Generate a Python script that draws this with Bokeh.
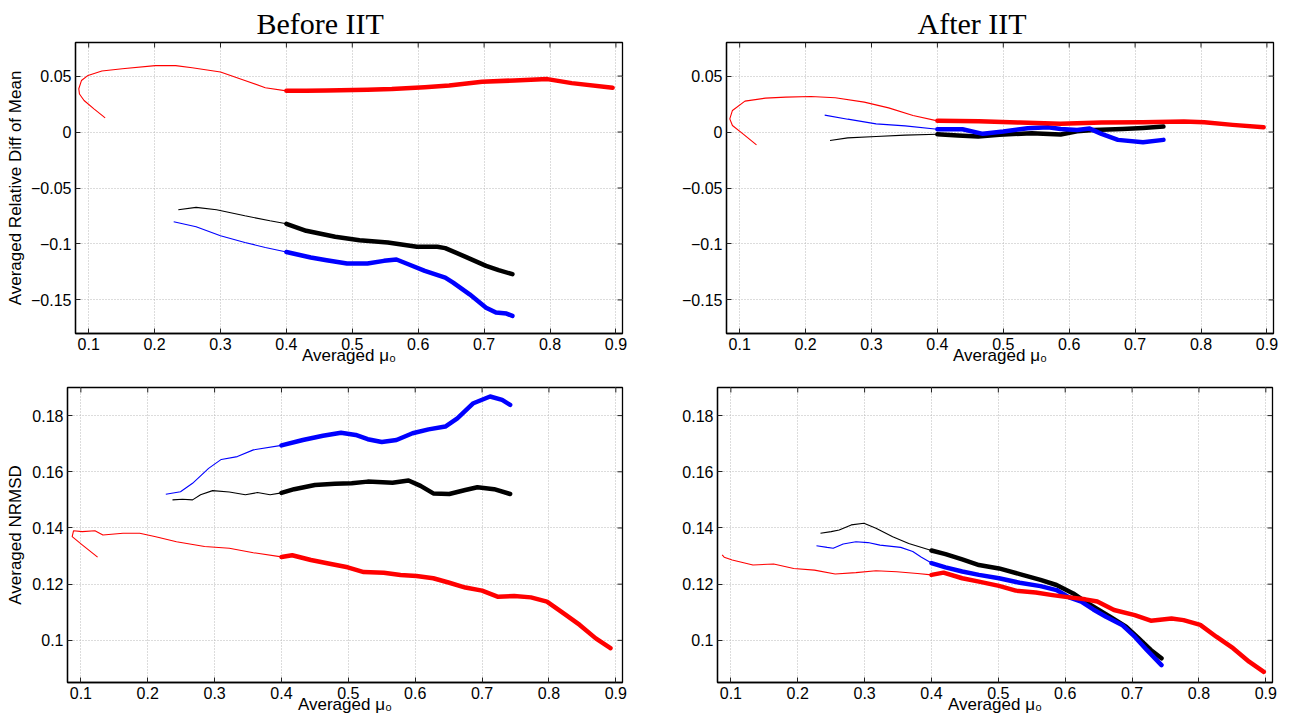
from bokeh.plotting import figure
from bokeh.layouts import column, row
from bokeh.models import FixedTicker
from bokeh.embed import file_html
from bokeh.resources import INLINE

# ---------------- axis ticks ----------------
x_ticks = [0.1, 0.2, 0.3, 0.4, 0.5, 0.6, 0.7, 0.8, 0.9]
x_tick_labels = ["0.1", "0.2", "0.3", "0.4", "0.5", "0.6", "0.7", "0.8", "0.9"]
mean_ticks = [-0.15, -0.1, -0.05, 0.0, 0.05]
mean_tick_labels = ["\u22120.15", "\u22120.1", "\u22120.05", "0", "0.05"]
nrmsd_ticks = [0.1, 0.12, 0.14, 0.16, 0.18]
nrmsd_tick_labels = ["0.1", "0.12", "0.14", "0.16", "0.18"]

titles = ["Before IIT", "After IIT"]
x_label = "Averaged \u03bc\u2080"
y_label_mean = "Averaged Relative Diff of Mean"
y_label_nrmsd = "Averaged NRMSD"
split_mu = 0.4  # thin line below, thick line above

# ---------------- Before IIT : relative diff of mean ----------------
b_mean_red_x = [0.125, 0.108, 0.093, 0.086, 0.085, 0.089, 0.099, 0.120, 0.151, 0.201, 0.232, 0.257,
                0.300, 0.337, 0.368, 0.400, 0.430, 0.461, 0.523, 0.560, 0.610, 0.647, 0.697, 0.746,
                0.796, 0.833, 0.895]
b_mean_red_y = [0.0127, 0.0207, 0.0282, 0.0340, 0.0387, 0.0460, 0.0506, 0.0545, 0.0566, 0.0593, 0.0593,
                0.0575, 0.0536, 0.0461, 0.0396, 0.0368, 0.0368, 0.0372, 0.0378, 0.0384, 0.0400, 0.0416,
                0.0449, 0.0461, 0.0473, 0.0437, 0.0396]
b_mean_black_x = [0.236, 0.263, 0.294, 0.337, 0.375, 0.400, 0.430, 0.474, 0.511, 0.554, 0.598, 0.629,
                  0.641, 0.672, 0.703, 0.722, 0.743]
b_mean_black_y = [-0.0694, -0.0673, -0.0694, -0.0748, -0.0793, -0.0820, -0.0882, -0.0936, -0.0966,
                  -0.0987, -0.1025, -0.1025, -0.1037, -0.1115, -0.1196, -0.1234, -0.1270]
b_mean_blue_x = [0.229, 0.263, 0.300, 0.337, 0.368, 0.400, 0.437, 0.461, 0.492, 0.523, 0.548, 0.567,
                 0.585, 0.610, 0.641, 0.653, 0.678, 0.703, 0.718, 0.734, 0.743]
b_mean_blue_y = [-0.0801, -0.0846, -0.0927, -0.0987, -0.1031, -0.1072, -0.1121, -0.1145, -0.1175,
                 -0.1175, -0.1151, -0.1139, -0.1181, -0.1240, -0.1300, -0.1345, -0.1450, -0.1569,
                 -0.1613, -0.1622, -0.1643]

# ---------------- After IIT : relative diff of mean ----------------
a_mean_red_x = [0.1255, 0.105, 0.089, 0.085, 0.089, 0.108, 0.139, 0.170, 0.208, 0.245, 0.289, 0.326,
                0.363, 0.400, 0.463, 0.525, 0.587, 0.649, 0.712, 0.774, 0.805, 0.848, 0.895]
a_mean_red_y = [-0.0115, -0.0016, 0.0058, 0.0118, 0.0193, 0.0276, 0.0303, 0.0312, 0.0318, 0.0306,
                0.0267, 0.0216, 0.0148, 0.0100, 0.0097, 0.0085, 0.0073, 0.0085, 0.0088, 0.0094,
                0.0088, 0.0064, 0.0043]
a_mean_black_x = [0.237, 0.264, 0.307, 0.351, 0.400, 0.431, 0.462, 0.494, 0.543, 0.587, 0.612, 0.637,
                  0.681, 0.712, 0.743]
a_mean_black_y = [-0.0076, -0.0052, -0.0040, -0.0028, -0.0020, -0.0031, -0.0040, -0.0025, -0.0010,
                  -0.0022, 0.0007, 0.0019, 0.0028, 0.0037, 0.0049]
a_mean_blue_x = [0.229, 0.264, 0.307, 0.351, 0.400, 0.438, 0.469, 0.500, 0.537, 0.568, 0.587, 0.612,
                 0.631, 0.649, 0.674, 0.712, 0.743]
a_mean_blue_y = [0.0151, 0.0115, 0.0073, 0.0055, 0.0025, 0.0025, -0.0016, 0.0004, 0.0034, 0.0043,
                 0.0028, 0.0019, 0.0031, -0.0016, -0.0070, -0.0091, -0.0070]

# ---------------- Before IIT : NRMSD ----------------
b_nrmsd_red_x = [0.125, 0.102, 0.087, 0.089, 0.102, 0.121, 0.133, 0.163, 0.188, 0.212, 0.243, 0.285,
                 0.322, 0.358, 0.400, 0.416, 0.444, 0.474, 0.499, 0.523, 0.553, 0.578, 0.602, 0.627,
                 0.651, 0.675, 0.700, 0.724, 0.748, 0.773, 0.797, 0.822, 0.846, 0.870, 0.892]
b_nrmsd_red_y = [0.1296, 0.1340, 0.1369, 0.1390, 0.1387, 0.1390, 0.1375, 0.1381, 0.1381, 0.1369,
                 0.1351, 0.1334, 0.1328, 0.1312, 0.1297, 0.1303, 0.1286, 0.1272, 0.1260, 0.1243,
                 0.1241, 0.1233, 0.1229, 0.1221, 0.1205, 0.1188, 0.1177, 0.1155, 0.1158, 0.1153,
                 0.1138, 0.1096, 0.1055, 0.1007, 0.0972]
b_nrmsd_black_x = [0.237, 0.252, 0.267, 0.279, 0.297, 0.322, 0.346, 0.364, 0.383, 0.400, 0.419, 0.450,
                   0.480, 0.505, 0.529, 0.566, 0.590, 0.608, 0.627, 0.651, 0.675, 0.693, 0.718, 0.742]
b_nrmsd_black_y = [0.1500, 0.1502, 0.1500, 0.1518, 0.1533, 0.1528, 0.1518, 0.1526, 0.1518, 0.1525,
                   0.1538, 0.1553, 0.1557, 0.1559, 0.1565, 0.1561, 0.1569, 0.1550, 0.1523, 0.1521,
                   0.1535, 0.1545, 0.1538, 0.1521]
b_nrmsd_blue_x = [0.227, 0.249, 0.267, 0.291, 0.310, 0.334, 0.358, 0.400, 0.432, 0.462, 0.489, 0.511,
                  0.529, 0.550, 0.572, 0.596, 0.620, 0.645, 0.663, 0.687, 0.712, 0.730, 0.742]
b_nrmsd_blue_y = [0.1520, 0.1529, 0.1559, 0.1612, 0.1644, 0.1654, 0.1678, 0.1694, 0.1713, 0.1728,
                  0.1739, 0.1731, 0.1716, 0.1706, 0.1713, 0.1737, 0.1751, 0.1761, 0.1790, 0.1844,
                  0.1868, 0.1856, 0.1838]

# ---------------- After IIT : NRMSD ----------------
a_nrmsd_red_x = [0.087, 0.090, 0.102, 0.133, 0.164, 0.194, 0.225, 0.256, 0.287, 0.317, 0.348, 0.379,
                 0.400, 0.418, 0.446, 0.471, 0.501, 0.526, 0.556, 0.581, 0.606, 0.630, 0.648, 0.673,
                 0.704, 0.728, 0.759, 0.777, 0.802, 0.826, 0.851, 0.875, 0.897]
a_nrmsd_red_y = [0.1304, 0.1296, 0.1286, 0.1268, 0.1272, 0.1256, 0.1250, 0.1236, 0.1241, 0.1248,
                 0.1244, 0.1238, 0.1233, 0.1241, 0.1221, 0.1209, 0.1194, 0.1177, 0.1170, 0.1161,
                 0.1153, 0.1146, 0.1138, 0.1108, 0.1090, 0.1070, 0.1078, 0.1072, 0.1055, 0.1013,
                 0.0972, 0.0924, 0.0888]
a_nrmsd_black_x = [0.234, 0.250, 0.262, 0.280, 0.299, 0.317, 0.342, 0.366, 0.400, 0.421, 0.446, 0.471,
                   0.501, 0.532, 0.563, 0.587, 0.612, 0.630, 0.649, 0.667, 0.691, 0.710, 0.728, 0.744]
a_nrmsd_black_y = [0.1381, 0.1387, 0.1393, 0.1411, 0.1417, 0.1399, 0.1369, 0.1345, 0.1320, 0.1307,
                   0.1288, 0.1268, 0.1256, 0.1236, 0.1215, 0.1197, 0.1167, 0.1138, 0.1110, 0.1084,
                   0.1049, 0.1007, 0.0966, 0.0936]
a_nrmsd_blue_x = [0.228, 0.244, 0.253, 0.268, 0.287, 0.305, 0.323, 0.354, 0.372, 0.385, 0.400, 0.421,
                  0.446, 0.471, 0.501, 0.532, 0.563, 0.587, 0.606, 0.624, 0.642, 0.661, 0.685, 0.704,
                  0.722, 0.744]
a_nrmsd_blue_y = [0.1337, 0.1331, 0.1328, 0.1343, 0.1351, 0.1348, 0.1339, 0.1331, 0.1316, 0.1296,
                  0.1275, 0.1260, 0.1245, 0.1233, 0.1221, 0.1205, 0.1193, 0.1179, 0.1153, 0.1138,
                  0.1110, 0.1084, 0.1055, 0.1013, 0.0966, 0.0912]

COL = {"red": "#ff0000", "blue": "#0000ff", "black": "#000000"}
SANS = "Liberation Sans"
X_RANGE = (0.08, 0.91)


def split_series(xs, ys):
    k = next(i for i, v in enumerate(xs) if v >= split_mu - 1e-9)
    return (xs[:k + 1], ys[:k + 1]), (xs[k:], ys[k:])


def panel(series, yticks, ylabels, yrng, fw, fh, bl, br, bt, bb,
          title=None, title_offset=0, ylab=None, ylab_standoff=3):
    p = figure(x_range=X_RANGE, y_range=yrng, frame_width=fw, frame_height=fh,
               min_border_left=bl, min_border_right=br, min_border_top=bt, min_border_bottom=bb,
               output_backend="svg", toolbar_location=None)
    p.background_fill_color = "white"
    p.border_fill_color = "white"
    p.outline_line_color = "black"
    p.outline_line_width = 1.3

    if title is not None:
        p.title.text = title
        p.title.align = "left"
        p.title.offset = title_offset
        p.title.text_font = "Liberation Serif"
        p.title.text_font_size = "30px"
        p.title.text_font_style = "normal"
        p.title.text_color = "black"
        p.title.vertical_align = "top"
        p.title.standoff = 2
    else:
        p.title.visible = False

    xa = p.xaxis[0]
    ya = p.yaxis[0]
    xa.ticker = FixedTicker(ticks=x_ticks)
    xa.major_label_overrides = dict(zip(x_ticks, x_tick_labels))
    ya.ticker = FixedTicker(ticks=yticks)
    ya.major_label_overrides = dict(zip(yticks, ylabels))
    for ax in (xa, ya):
        ax.axis_line_color = "black"
        ax.axis_line_width = 1.3
        ax.major_tick_in = 5
        ax.major_tick_out = 0
        ax.major_tick_line_color = "#222222"
        ax.minor_tick_line_color = None
        ax.major_label_text_font = SANS
        ax.major_label_text_font_size = "16px"
        ax.major_label_text_color = "black"
        ax.major_label_standoff = 4
        ax.axis_label_text_font = SANS
        ax.axis_label_text_font_size = "17px"
        ax.axis_label_text_font_style = "normal"
        ax.axis_label_text_color = "black"
    xa.axis_label = x_label
    xa.axis_label_standoff = -7
    if ylab is not None:
        ya.axis_label = ylab
        ya.axis_label_standoff = ylab_standoff

    p.xgrid.ticker = FixedTicker(ticks=x_ticks)
    p.ygrid.ticker = FixedTicker(ticks=yticks)
    p.grid.grid_line_color = "#b8b8b8"
    p.grid.grid_line_dash = "1 2"
    p.grid.grid_line_width = 1

    # inward tick marks on the top and right edges of the box
    p.ray(x=x_ticks, y=[yrng[1]] * len(x_ticks), length=5, length_units="screen",
          angle=-90, angle_units="deg", line_color="#222222", line_width=1)
    p.ray(x=[X_RANGE[1]] * len(yticks), y=yticks, length=5, length_units="screen",
          angle=180, angle_units="deg", line_color="#222222", line_width=1)

    for (xs, ys, c) in series:
        (tx, ty), (kx, ky) = split_series(xs, ys)
        p.line(tx, ty, line_color=COL[c], line_width=1.1)
        p.line(kx, ky, line_color=COL[c], line_width=4.5, line_join="round", line_cap="round")
    return p


tl = panel([(b_mean_black_x, b_mean_black_y, "black"), (b_mean_blue_x, b_mean_blue_y, "blue"),
            (b_mean_red_x, b_mean_red_y, "red")],
           mean_ticks, mean_tick_labels, (-0.18, 0.08), 547, 291, 75, 25, 42, 39,
           title=titles[0], title_offset=181, ylab=y_label_mean, ylab_standoff=3)
tr = panel([(a_mean_black_x, a_mean_black_y, "black"), (a_mean_blue_x, a_mean_blue_y, "blue"),
            (a_mean_red_x, a_mean_red_y, "red")],
           mean_ticks, mean_tick_labels, (-0.18, 0.08), 547, 291, 79, 21, 42, 39,
           title=titles[1], title_offset=191)
bl = panel([(b_nrmsd_black_x, b_nrmsd_black_y, "black"), (b_nrmsd_blue_x, b_nrmsd_blue_y, "blue"),
            (b_nrmsd_red_x, b_nrmsd_red_y, "red")],
           nrmsd_ticks, nrmsd_tick_labels, (0.085, 0.19), 555, 295, 67, 25, 15, 37,
           ylab=y_label_nrmsd, ylab_standoff=4)
br = panel([(a_nrmsd_black_x, a_nrmsd_black_y, "black"), (a_nrmsd_blue_x, a_nrmsd_blue_y, "blue"),
            (a_nrmsd_red_x, a_nrmsd_red_y, "red")],
           nrmsd_ticks, nrmsd_tick_labels, (0.085, 0.19), 555, 295, 70, 22, 15, 37)

layout = column(row(tl, tr, spacing=0), row(bl, br, spacing=0), spacing=0)
open("out.html", "w").write(file_html(layout, INLINE))
